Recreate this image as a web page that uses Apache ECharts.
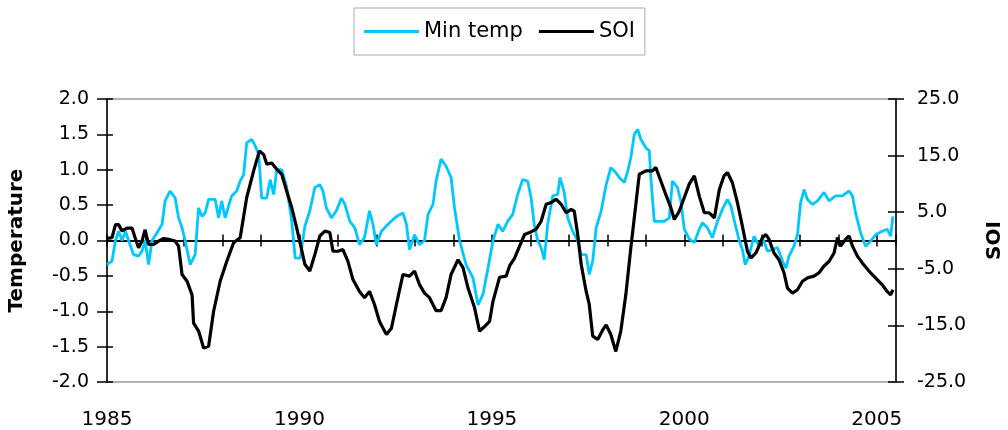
<!DOCTYPE html>
<html>
<head>
<meta charset="utf-8">
<script src="https://cdn.jsdelivr.net/npm/echarts@6/dist/echarts.min.js"></script>
<style>
  html, body { margin: 0; padding: 0; background: #fff; }
  #main { width: 1008px; height: 430px; }
</style>
</head>
<body>
<div id="main"></div>
<script>
var chartDom = document.getElementById('main');
var myChart = echarts.init(chartDom);
var option;

// Min temp (left axis, degrees)
let tempYears = [1985.00,1985.13,1985.22,1985.30,1985.39,1985.48,1985.56,1985.69,1985.82,1985.91,1985.99,1986.08,1986.17,1986.30,1986.43,1986.51,1986.64,1986.77,1986.86,1986.95,
  1987.03,1987.16,1987.29,1987.38,1987.47,1987.55,1987.64,1987.81,1987.90,1987.98,1988.07,1988.16,1988.24,1988.37,1988.46,1988.55,1988.63,1988.76,1988.85,1988.94,
  1989.02,1989.15,1989.24,1989.33,1989.41,1989.54,1989.67,1989.80,1989.89,1990.02,1990.14,1990.27,1990.40,1990.53,1990.61,1990.70,1990.83,1990.96,1991.09,1991.18,
  1991.31,1991.44,1991.56,1991.69,1991.82,1991.91,1992.00,1992.13,1992.34,1992.52,1992.69,1992.78,1992.86,1992.99,1993.12,1993.25,1993.34,1993.47,1993.55,1993.68,
  1993.81,1993.94,1994.03,1994.16,1994.33,1994.51,1994.64,1994.77,1994.90,1995.03,1995.16,1995.28,1995.41,1995.54,1995.67,1995.80,1995.93,1996.02,1996.10,1996.19,
  1996.28,1996.36,1996.45,1996.58,1996.71,1996.77,1996.88,1996.97,1997.10,1997.23,1997.32,1997.45,1997.53,1997.62,1997.71,1997.84,1997.97,1998.09,1998.22,1998.31,
  1998.44,1998.53,1998.61,1998.70,1998.79,1998.87,1999.00,1999.09,1999.13,1999.22,1999.35,1999.48,1999.61,1999.69,1999.82,1999.91,2000.00,2000.13,2000.26,2000.39,
  2000.47,2000.60,2000.73,2000.86,2000.99,2001.12,2001.21,2001.29,2001.42,2001.51,2001.58,2001.68,2001.81,2001.94,2002.03,2002.16,2002.29,2002.42,2002.55,2002.64,
  2002.72,2002.85,2002.94,2003.02,2003.11,2003.20,2003.33,2003.46,2003.63,2003.76,2003.93,2004.11,2004.28,2004.37,2004.45,2004.58,2004.71,2004.84,2004.97,2005.14,
  2005.27,2005.36,2005.42];
let tempValues = [-0.34,-0.29,0,0.13,0,0.13,0,-0.2,-0.22,-0.15,0,-0.34,0,0.11,0.23,0.56,0.7,0.6,0.32,0.18,
  0,-0.34,-0.2,0.46,0.34,0.39,0.58,0.58,0.32,0.56,0.32,0.49,0.63,0.7,0.84,0.93,1.38,1.43,1.34,1.22,
  0.6,0.6,0.86,0.65,1.0,1.0,0.75,0.27,-0.25,-0.25,0.2,0.42,0.75,0.79,0.7,0.46,0.32,0.42,0.6,0.51,
  0.27,0.18,-0.06,0.04,0.42,0.23,-0.06,0.13,0.25,0.34,0.39,0.23,-0.13,0.08,-0.06,0,0.37,0.51,0.84,1.15,
  1.05,0.89,0.46,0,-0.34,-0.53,-0.91,-0.76,-0.39,0,0.23,0.13,0.27,0.37,0.65,0.86,0.84,0.6,0.23,0,
  -0.1,-0.27,0.23,0.63,0.65,0.89,0.68,0.32,0.13,0,-0.2,-0.2,-0.48,-0.29,0.18,0.42,0.79,1.03,0.96,0.89,
  0.82,0.98,1.17,1.5,1.57,1.43,1.31,1.27,0.89,0.27,0.27,0.27,0.32,0.84,0.75,0.56,0.16,0.02,-0.03,0.16,
  0.25,0.18,0.04,0.27,0.44,0.58,0.49,0.3,0.01,-0.13,-0.34,-0.22,0.06,-0.08,0.04,-0.15,-0.13,-0.1,-0.29,-0.39,
  -0.22,-0.08,0.08,0.53,0.72,0.58,0.51,0.56,0.68,0.56,0.63,0.63,0.7,0.63,0.39,0.11,-0.08,-0.01,0.08,0.13,
  0.16,0.06,0.34];

// SOI (right axis)
let soiYears = [1985.00,1985.13,1985.22,1985.30,1985.39,1985.52,1985.65,1985.73,1985.82,1985.91,1985.99,1986.08,1986.21,1986.34,1986.47,1986.60,1986.77,1986.86,1986.95,1987.08,
  1987.21,1987.25,1987.38,1987.51,1987.64,1987.77,1987.94,1988.11,1988.29,1988.46,1988.63,1988.81,1988.96,1989.07,1989.15,1989.28,1989.41,1989.54,1989.67,1989.80,
  1989.93,1990.03,1990.14,1990.27,1990.40,1990.53,1990.66,1990.79,1990.87,1991.00,1991.13,1991.26,1991.39,1991.56,1991.69,1991.82,1991.95,1992.08,1992.26,1992.39,
  1992.52,1992.69,1992.86,1992.99,1993.12,1993.25,1993.38,1993.55,1993.68,1993.81,1993.94,1994.12,1994.25,1994.38,1994.55,1994.68,1994.81,1994.94,1995.03,1995.20,
  1995.37,1995.46,1995.59,1995.72,1995.85,1995.98,1996.15,1996.28,1996.41,1996.54,1996.67,1996.80,1996.93,1997.06,1997.14,1997.23,1997.32,1997.45,1997.53,1997.62,
  1997.75,1997.88,1997.97,1998.09,1998.22,1998.35,1998.48,1998.61,1998.70,1998.83,1999.00,1999.17,1999.26,1999.39,1999.52,1999.65,1999.74,1999.87,2000.00,2000.13,
  2000.26,2000.39,2000.52,2000.65,2000.78,2000.91,2001.03,2001.12,2001.25,2001.38,2001.51,2001.64,2001.73,2001.86,2001.94,2002.03,2002.12,2002.20,2002.33,2002.46,
  2002.59,2002.68,2002.81,2002.94,2003.07,2003.20,2003.37,2003.50,2003.63,2003.76,2003.89,2003.98,2004.06,2004.19,2004.28,2004.37,2004.50,2004.63,2004.76,2004.88,
  2005.01,2005.14,2005.27,2005.36,2005.42];
let soiValues = [0.35,0.5,2.8,2.8,1.7,2.2,2.2,0.5,-1.3,-0.1,1.9,-0.7,-0.7,-0.1,0.35,0.2,-0.1,-1.0,-6.0,-7.2,
  -9.6,-14.6,-16.0,-19.0,-18.7,-12.5,-7.2,-3.7,-0.4,0.5,7.6,12.3,15.8,15.2,13.5,13.7,12.6,11.7,8.7,5.8,
  2.2,-0.8,-4.2,-5.4,-2.5,0.8,1.65,1.4,-1.9,-1.9,-1.6,-3.7,-6.9,-9.0,-10.1,-9.0,-11.3,-14.3,-16.6,-15.5,
  -11.3,-6.0,-6.3,-5.4,-7.8,-9.3,-10.1,-12.4,-12.4,-10.1,-6.0,-3.4,-4.8,-8.4,-11.9,-16.0,-15.2,-14.3,-10.7,-6.5,
  -6.3,-4.5,-3.1,-1.0,1.06,1.4,2.0,3.4,6.4,6.7,7.3,6.4,4.9,5.5,5.2,1.06,-4.2,-9.0,-11.3,-16.9,
  -17.5,-15.8,-14.9,-16.6,-19.6,-16.0,-9.6,-1.3,4.0,11.7,12.3,12.3,12.9,10.5,8.1,5.8,3.7,5.2,7.6,10.0,
  11.4,7.8,4.9,4.9,4.0,9.0,11.4,12.0,10.2,6.7,2.5,-1.9,-3.1,-2.2,-1.0,0.5,1.06,0.2,-2.2,-3.4,
  -5.7,-8.4,-9.3,-8.7,-7.2,-6.6,-6.3,-5.7,-4.5,-3.7,-2.2,0.5,-1.0,0.2,0.8,-1.0,-2.8,-4.0,-5.1,-6.0,
  -6.9,-7.8,-9.0,-9.6,-8.7];

let tempData = [];
for (let i = 0; i < tempYears.length; i++) {
  tempData.push([tempYears[i], tempValues[i]]);
}
let soiData = [];
for (let i = 0; i < soiYears.length; i++) {
  soiData.push([soiYears[i], soiValues[i]]);
}

let font = 'DejaVu Sans';

option = {
  animation: false,
  textStyle: { fontFamily: font },
  legend: {
    left: 354,
    top: 8,
    padding: [13, 10, 13, 10],
    itemGap: 16,
    itemWidth: 55,
    itemHeight: 3,
    icon: 'rect',
    borderColor: '#aaa',
    borderWidth: 1,
    textStyle: { fontFamily: font, fontSize: 21, color: '#000' },
    data: ['Min temp', 'SOI']
  },
  grid: {
    left: 107,
    right: 112,
    top: 99,
    bottom: 48,
    outerBoundsMode: 'none',
    containLabel: false,
    show: true,
    borderColor: '#999',
    borderWidth: 1.5
  },
  xAxis: [
    {
      // zero line with yearly ticks (downward)
      type: 'value',
      min: 1985,
      max: 2005.5,
      interval: 1,
      axisLine: { onZero: true, onZeroAxisIndex: 0, lineStyle: { color: '#000', width: 1.5 } },
      axisTick: { show: true, length: 6, lineStyle: { color: '#000', width: 1.5 } },
      axisLabel: { show: false },
      splitLine: { show: false }
    },
    {
      // same zero line, ticks upward
      type: 'value',
      position: 'top',
      min: 1985,
      max: 2005.5,
      interval: 1,
      axisLine: { onZero: true, onZeroAxisIndex: 0, lineStyle: { color: '#000', width: 1.5 } },
      axisTick: { show: true, length: 6, lineStyle: { color: '#000', width: 1.5 } },
      axisLabel: { show: false },
      splitLine: { show: false }
    },
    {
      // year labels along the bottom
      type: 'value',
      position: 'bottom',
      min: 1985,
      max: 2005.5,
      interval: 1,
      axisLine: { show: false, onZero: false },
      axisTick: { show: false },
      axisLabel: {
        show: true,
        margin: 28,
        fontFamily: font,
        fontSize: 20,
        color: '#000',
        formatter: function (v) { return v % 5 === 0 ? String(v) : ''; }
      },
      splitLine: { show: false }
    }
  ],
  yAxis: [
    {
      type: 'value',
      position: 'left',
      min: -2,
      max: 2,
      interval: 0.5,
      name: 'Temperature',
      nameLocation: 'middle',
      nameRotate: 90,
      nameGap: 80,
      nameTextStyle: { fontFamily: font, fontSize: 20, fontWeight: 'bold', color: '#000' },
      axisLine: { show: true, lineStyle: { color: '#000', width: 1.5 } },
      axisTick: { show: true, length: 10, lineStyle: { color: '#000', width: 1.5 } },
      axisLabel: {
        margin: 18,
        fontFamily: font,
        fontSize: 19,
        color: '#000',
        formatter: function (v) { return v.toFixed(1); }
      },
      splitLine: { show: false }
    },
    {
      // SOI scale used by the series
      type: 'value',
      position: 'right',
      min: -25,
      max: 25,
      show: false,
      splitLine: { show: false }
    },
    {
      // SOI display axis: 0..50 shown as -25..25
      type: 'value',
      position: 'right',
      min: 0,
      max: 50,
      interval: 10,
      name: 'SOI',
      nameLocation: 'middle',
      nameRotate: 90,
      nameGap: 89,
      nameTextStyle: { fontFamily: font, fontSize: 20, fontWeight: 'bold', color: '#000' },
      axisLine: { show: true, lineStyle: { color: '#000', width: 1.5 } },
      axisTick: { show: true, length: 8, lineStyle: { color: '#000', width: 1.5 } },
      axisLabel: {
        margin: 21,
        fontFamily: font,
        fontSize: 19,
        color: '#000',
        formatter: function (v) { return (v - 25).toFixed(1); }
      },
      splitLine: { show: false }
    },
    {
      // inner ticks on the left axis
      type: 'value',
      position: 'left',
      min: -2,
      max: 2,
      interval: 0.5,
      axisLine: { show: false },
      axisTick: { show: true, inside: true, length: 6, lineStyle: { color: '#000', width: 1.5 } },
      axisLabel: { show: false },
      splitLine: { show: false }
    },
    {
      // inner ticks on the right axis
      type: 'value',
      position: 'right',
      min: 0,
      max: 50,
      interval: 10,
      axisLine: { show: false },
      axisTick: { show: true, inside: true, length: 8, lineStyle: { color: '#000', width: 1.5 } },
      axisLabel: { show: false },
      splitLine: { show: false }
    }
  ],
  series: [
    {
      name: 'Min temp',
      type: 'line',
      xAxisIndex: 0,
      yAxisIndex: 0,
      symbol: 'none',
      color: '#00c8ff',
      lineStyle: { color: '#00c8ff', width: 2.8 },
      data: tempData
    },
    {
      name: 'SOI',
      type: 'line',
      xAxisIndex: 0,
      yAxisIndex: 1,
      symbol: 'none',
      color: '#000',
      lineStyle: { color: '#000', width: 3.2 },
      data: soiData
    }
  ]
};

option && myChart.setOption(option);
</script>
</body>
</html>
